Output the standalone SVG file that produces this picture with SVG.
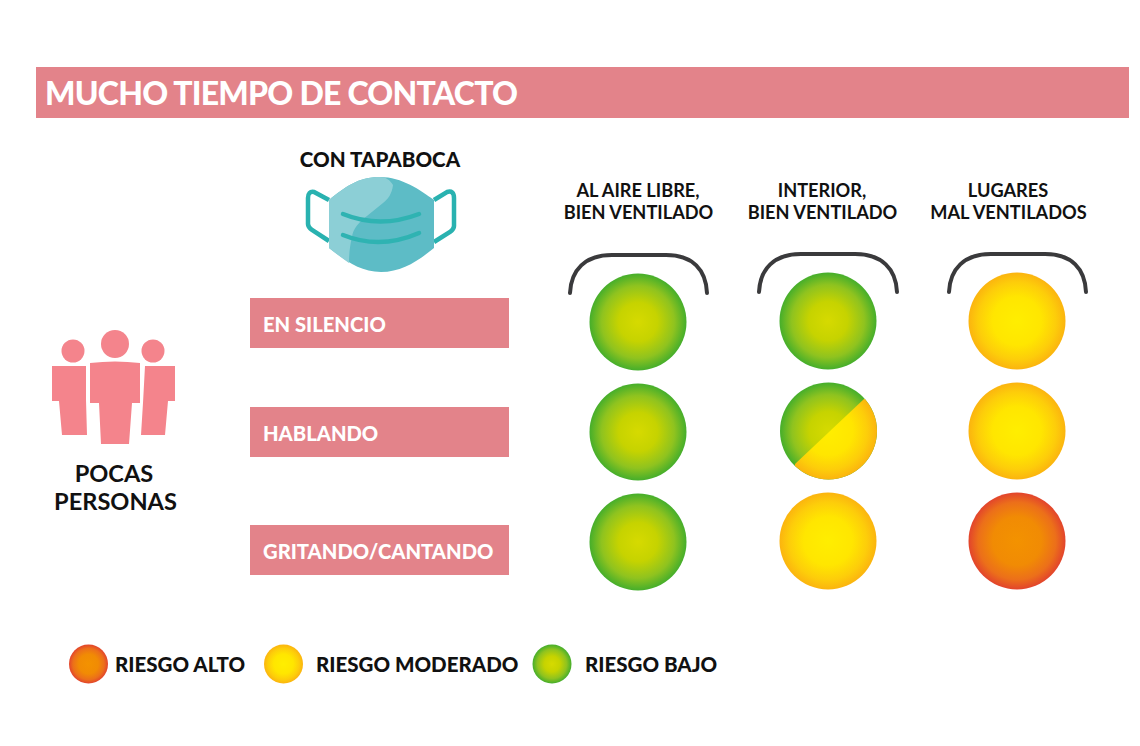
<svg xmlns="http://www.w3.org/2000/svg" width="1140" height="746" viewBox="0 0 1140 746">
<style>
text{font-family:Lato,"Liberation Sans",sans-serif;font-weight:700;fill:#111}
.c{text-anchor:middle}
.hd{font-size:18.2px}
.lb{font-size:20.2px;fill:#fff;font-weight:900}
.lg{font-size:20.5px;font-weight:900}
.bar{fill:#e3838a}
.p{fill:#f4848c}
.br{fill:none;stroke:#3a3a3c;stroke-width:4;stroke-linecap:round}
</style>
<defs>
<radialGradient id="g"><stop offset="0" stop-color="#d6da00"/><stop offset=".4" stop-color="#c6d300"/><stop offset=".75" stop-color="#8fc31f"/><stop offset="1" stop-color="#45ae2b"/></radialGradient>
<radialGradient id="y"><stop offset="0" stop-color="#ffee00"/><stop offset=".5" stop-color="#ffe600"/><stop offset=".8" stop-color="#fdcd0a"/><stop offset="1" stop-color="#fbb40f"/></radialGradient>
<radialGradient id="r"><stop offset="0" stop-color="#f39200"/><stop offset=".5" stop-color="#f18b04"/><stop offset=".8" stop-color="#ec6f1a"/><stop offset="1" stop-color="#e2442c"/></radialGradient>
<clipPath id="half"><polygon points="864,399 795,464 795,490 890,490 890,399"/></clipPath>
</defs>
<rect width="1140" height="746" fill="#fff"/>
<g id="header"><rect class="bar" x="36" y="67" width="1093" height="51"/><text x="45" y="105" font-size="32" letter-spacing="-.75" style="fill:#fff;font-weight:900">MUCHO TIEMPO DE CONTACTO</text></g>
<g id="mask">
<text class="c" x="380" y="167" font-size="20.6" style="font-weight:900">CON TAPABOCA</text>
<path d="M329 200 L314 192 Q308 191 308 198 V224 Q308 227 312 230 L329 241 M434 200 L447 192 Q454 190 454 198 V226 Q454 229 450 232 L434 242" fill="none" stroke="#29b2b0" stroke-width="4.500"/>
<path d="M329 200C345 187 358 177 380 177C402 177 420 190 434 200V248C418 261 402 272 381 272C360 272 345 260 329 248Z" fill="#5dbcc6"/>
<path d="M329 200C345 187 358 177 380 177C386 177 390 180 393 185C392 194 388 199 383 203L362 220C356 226 353 230 352 237C350 245 349 254 349 263C342 258 335 253 329 248Z" fill="#8ccfd6"/>
<path d="M343 214Q380 229 419 214M343 235Q380 250 419 233" fill="none" stroke="#2fb3b2" stroke-width="4.500" stroke-linecap="round"/>
</g>
<g id="people">
<circle class="p" cx="73" cy="351" r="11.500"/><circle class="p" cx="153" cy="351" r="11.500"/><circle class="p" cx="115" cy="344" r="14"/>
<path class="p" d="M52 366H86V400L87 435H62L59 401H52Z"/>
<path class="p" d="M145 366H175V401H168L165 435H141L143 403Z"/>
<path class="p" d="M90 363Q115 360 140 363V403H132L129 444H101L99 403H90Z"/>
<text class="c" x="114" y="482" font-size="23.600" style="font-weight:700">POCAS</text>
<text class="c" x="115.500" y="510" font-size="23.600" style="font-weight:700">PERSONAS</text>
</g>
<g id="col-headers">
<text class="c hd" x="638" y="197">AL AIRE LIBRE,</text><text class="c hd" x="638.500" y="219">BIEN VENTILADO</text>
<text class="c hd" x="822" y="197">INTERIOR,</text><text class="c hd" x="822.500" y="219">BIEN VENTILADO</text>
<text class="c hd" x="1008" y="197">LUGARES</text><text class="c hd" x="1008.500" y="219">MAL VENTILADOS</text>
</g>
<g id="connectors">
<path class="br" d="M570 293C571 270 585 255 612 255H666C693 255 706 270 707 293"/>
<path class="br" d="M759 292C760 269 774 254 801 254H855C882 254 896 269 897 292"/>
<path class="br" d="M949 292C950 269 964 254 991 254H1045C1072 254 1085 269 1086 292"/>
</g>
<g id="row-1"><rect class="bar" x="250" y="298" width="259" height="50"/><text class="lb" x="263" y="332">EN SILENCIO</text></g>
<g id="row-2"><rect class="bar" x="250" y="407" width="259" height="50"/><text class="lb" x="263" y="441">HABLANDO</text></g>
<g id="row-3"><rect class="bar" x="250" y="525" width="259" height="50"/><text class="lb" x="263" y="559">GRITANDO/CANTANDO</text></g>
<g id="dots">
<circle cx="638" cy="322" r="48.500" fill="url(#g)"/><circle cx="828" cy="321" r="48.500" fill="url(#g)"/><circle cx="1017" cy="321" r="48.500" fill="url(#y)"/>
<circle cx="638" cy="432" r="48.500" fill="url(#g)"/>
<g id="dot-split"><circle cx="828.500" cy="431" r="48.500" fill="url(#g)"/><circle cx="828.500" cy="431" r="48.500" fill="url(#y)" clip-path="url(#half)"/></g>
<circle cx="1017" cy="431" r="48.500" fill="url(#y)"/>
<circle cx="638" cy="542" r="48.500" fill="url(#g)"/><circle cx="828" cy="541" r="48.500" fill="url(#y)"/><circle cx="1017" cy="541" r="48.500" fill="url(#r)"/>
</g>
<g id="legend">
<circle cx="88.500" cy="664" r="19.500" fill="url(#r)"/><text class="lg" x="115" y="672">RIESGO ALTO</text>
<circle cx="283.500" cy="664" r="19.500" fill="url(#y)"/><text class="lg" x="316" y="672">RIESGO MODERADO</text>
<circle cx="552" cy="664" r="19.500" fill="url(#g)"/><text class="lg" x="585" y="672">RIESGO BAJO</text>
</g>
</svg>
